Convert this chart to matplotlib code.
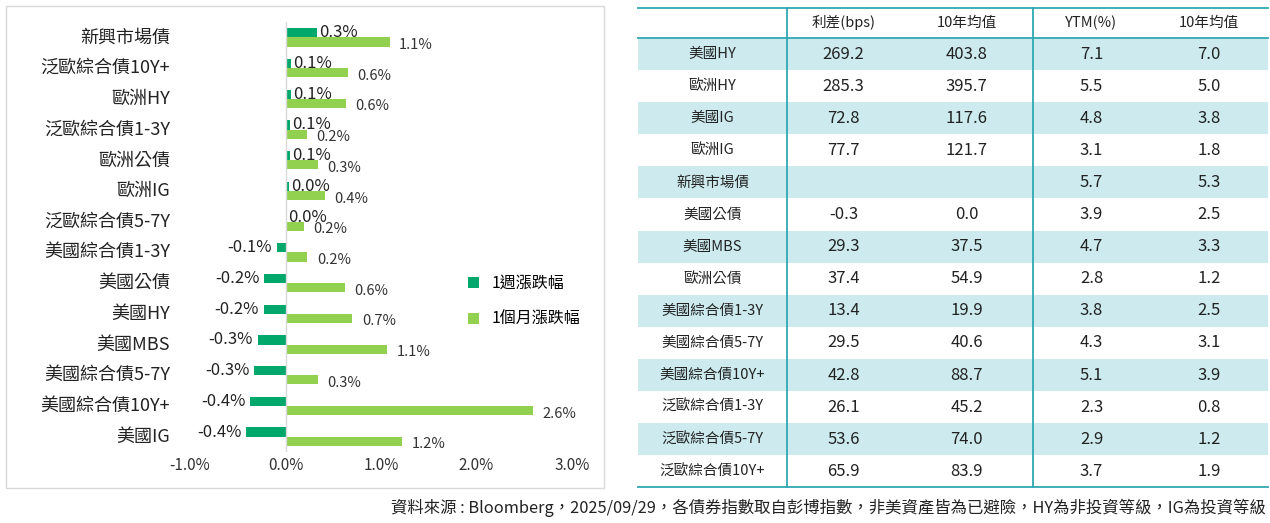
import matplotlib
matplotlib.use('Agg')
import matplotlib.pyplot as plt
from matplotlib.patches import Rectangle
import numpy as np

plt.rcParams['font.family'] = ['Noto Sans CJK TC', 'DejaVu Sans']

# bar chart data
names = ['新興市場債', '泛歐綜合債10Y+', '歐洲HY', '泛歐綜合債1-3Y', '歐洲公債', '歐洲IG',
         '泛歐綜合債5-7Y', '美國綜合債1-3Y', '美國公債', '美國HY', '美國MBS',
         '美國綜合債5-7Y', '美國綜合債10Y+', '美國IG']
week = [0.33, 0.06, 0.06, 0.05, 0.05, 0.04, 0.005, -0.09, -0.22, -0.23, -0.29, -0.33, -0.37, -0.41]
week_lbl = ['0.3%', '0.1%', '0.1%', '0.1%', '0.1%', '0.0%', '0.0%', '-0.1%', '-0.2%', '-0.2%',
            '-0.3%', '-0.3%', '-0.4%', '-0.4%']
month = [1.09, 0.65, 0.63, 0.22, 0.34, 0.41, 0.19, 0.23, 0.62, 0.70, 1.06, 0.34, 2.59, 1.22]
month_lbl = ['1.1%', '0.6%', '0.6%', '0.2%', '0.3%', '0.4%', '0.2%', '0.2%', '0.6%', '0.7%',
             '1.1%', '0.3%', '2.6%', '1.2%']

# table data
col_heads = ['利差(bps)', '10年均值', 'YTM(%)', '10年均值']
row_names = ['美國HY', '歐洲HY', '美國IG', '歐洲IG', '新興市場債', '美國公債', '美國MBS', '歐洲公債',
             '美國綜合債1-3Y', '美國綜合債5-7Y', '美國綜合債10Y+', '泛歐綜合債1-3Y',
             '泛歐綜合債5-7Y', '泛歐綜合債10Y+']
spread = ['269.2', '285.3', '72.8', '77.7', '', '-0.3', '29.3', '37.4', '13.4', '29.5', '42.8', '26.1', '53.6', '65.9']
spread_avg = ['403.8', '395.7', '117.6', '121.7', '', '0.0', '37.5', '54.9', '19.9', '40.6', '88.7', '45.2', '74.0', '83.9']
ytm = ['7.1', '5.5', '4.8', '3.1', '5.7', '3.9', '4.7', '2.8', '3.8', '4.3', '5.1', '2.3', '2.9', '3.7']
ytm_avg = ['7.0', '5.0', '3.8', '1.8', '5.3', '2.5', '3.3', '1.2', '2.5', '3.1', '3.9', '0.8', '1.2', '1.9']

W, H = 1270, 523
fig = plt.figure(figsize=(W / 100, H / 100), dpi=100)

# background axes in pixel coords
bg = fig.add_axes([0, 0, 1, 1])
bg.set_xlim(0, W)
bg.set_ylim(H, 0)
bg.axis('off')
bg.add_patch(Rectangle((6, 6), 598, 482, fill=False, ec='#d9d9d9', lw=1))

teal = '#2fa8b3'
shade = '#cdebee'
tx0, tx1 = 638, 1268
ty0, hh, rh = 8, 30, 32.1
col_edges = [638, 787, 900, 1033, 1150, 1268]
centers = [(col_edges[i] + col_edges[i + 1]) / 2 for i in range(5)]
for i in range(len(row_names)):
    y = ty0 + hh + i * rh
    if i % 2 == 0:
        bg.add_patch(Rectangle((tx0, y), tx1 - tx0, rh, fc=shade, ec='none'))
    vals = [row_names[i], spread[i], spread_avg[i], ytm[i], ytm_avg[i]]
    for j, v in enumerate(vals):
        bg.text(centers[j], y + rh / 2, v, ha='center', va='center',
                fontsize=10.5 if j == 0 else 12, color='#222222')
for j, h in enumerate(col_heads):
    bg.text(centers[j + 1], ty0 + hh / 2, h, ha='center', va='center', fontsize=10.5, color='#222222')
ybot = ty0 + hh + len(row_names) * rh
for y in [ty0, ty0 + hh, ybot]:
    bg.plot([tx0, tx1], [y, y], color=teal, lw=1.3)
for x in [787, 1033]:
    bg.plot([x, x], [ty0, ybot], color=teal, lw=1.3)

bg.text(1266, 508, '資料來源 : Bloomberg，2025/09/29，各債券指數取自彭博指數，非美資產皆為已避險，HY為非投資等級，IG為投資等級',
        ha='right', va='center', fontsize=11.8, color='#222222')

# bar chart
ax = fig.add_axes([190 / W, 1 - 452 / H, (572 - 190) / W, (452 - 22) / H])
n = len(names)
y = np.arange(n)
bh = 0.3
ax.barh(y - bh / 2, week, height=bh, color='#00a86b', label='1週漲跌幅')
ax.barh(y + bh / 2, month, height=bh, color='#92d050', label='1個月漲跌幅')
for i in range(n):
    if week[i] >= 0:
        ax.text(week[i] + 0.02, y[i] - bh / 2, week_lbl[i], ha='left', va='center', fontsize=12, color='#222222')
    else:
        ax.text(week[i] - 0.05, y[i] - bh / 2, week_lbl[i], ha='right', va='center', fontsize=12, color='#222222')
    ax.text(month[i] + 0.1, y[i] + bh / 2 + 0.1, month_lbl[i], ha='left', va='center', fontsize=10.5, color='#333333')
ax.set_ylim(n - 0.5, -0.5)
ax.set_xlim(-1.0, 3.0)
ax.set_xticks([-1, 0, 1, 2, 3])
ax.set_xticklabels(['-1.0%', '0.0%', '1.0%', '2.0%', '3.0%'], fontsize=11, color='#333333')
ax.set_yticks(y)
ax.set_yticklabels([])
# category names placed in pixel x, data y
trans = matplotlib.transforms.blended_transform_factory(bg.transData, ax.transData)
for i in range(n):
    ax.text(170, y[i], names[i], ha='right', va='center', fontsize=13, color='#222222', transform=trans)
ax.tick_params(length=0)
for s in ['top', 'right', 'left', 'bottom']:
    ax.spines[s].set_visible(False)
ax.axvline(0, color='#d9d9d9', lw=1)
ax.legend(loc='center left', bbox_to_anchor=(0.71, 0.35), frameon=False, fontsize=11.5,
          handlelength=0.7, handleheight=0.7, labelspacing=1.2, borderaxespad=0)

fig.savefig('out.png', dpi=100)
